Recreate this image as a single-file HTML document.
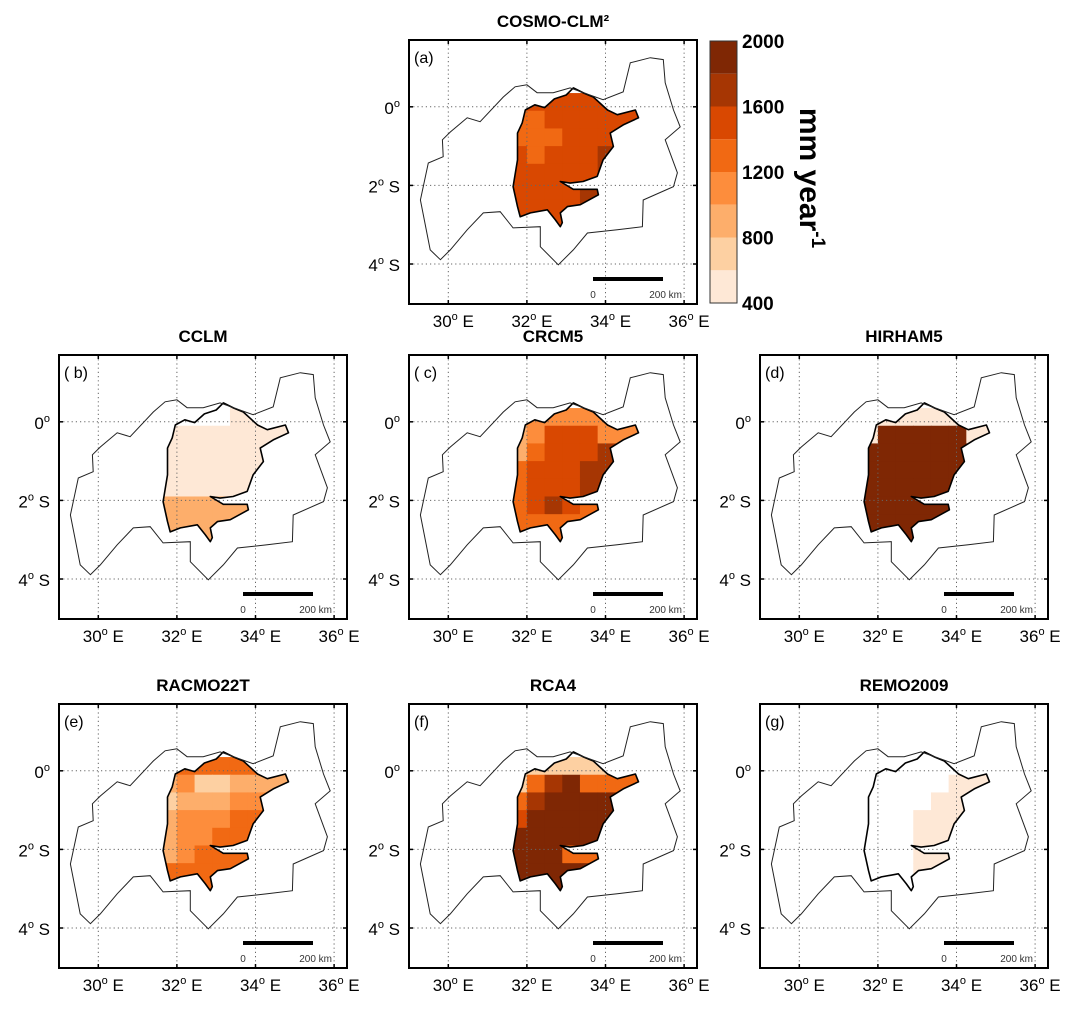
<!DOCTYPE html>
<html><head><meta charset="utf-8">
<style>
body{margin:0;background:#fff;}
svg{display:block;font-family:"Liberation Sans",sans-serif;}
</style></head>
<body>
<svg id="fig" width="1082" height="1015" viewBox="0 0 1082 1015"></svg>
<script>
// ---- data ----
const binEdges = [400,600,800,1000,1200,1400,1600,1800,2000];
const binColors = ["#fee8d6","#fdd0a2","#fdae6b","#fd8d3c","#f16913","#d94801","#a63603","#7f2704"];
const cbTicks = [400,800,1200,1600,2000];
const lonTicks = [30,32,34,36];
const latTicks = [0,-2,-4];
const basinLon = [29.8,29.54,29.29,29.49,29.87,29.85,30.05,30.48,30.81,31.4,31.7,32.0,32.26,32.67,33.1,33.94,34.45,34.63,35.14,35.47,35.52,35.73,35.9,35.52,35.83,35.73,34.96,34.94,34.3,33.54,33.18,32.8,32.34,32.34,31.65,31.32,30.89,30.48,30.05];
const basinLat = [-3.89,-3.64,-2.37,-1.43,-1.27,-0.84,-0.64,-0.28,-0.38,0.25,0.51,0.56,0.36,0.36,0.48,0.18,0.38,1.12,1.25,1.2,0.61,-0.08,-0.51,-0.84,-1.68,-2.03,-2.37,-3.05,-3.13,-3.21,-3.64,-4.02,-3.56,-3.05,-3.08,-2.67,-2.7,-3.13,-3.64];
const lakeLon = [31.96,32.2,32.45,32.7,33.0,33.18,33.45,33.69,34.05,34.3,34.76,34.84,34.45,34.12,34.2,33.94,33.79,33.43,33.1,32.85,33.18,33.79,33.82,33.36,33.03,32.85,32.9,32.85,32.72,32.52,32.09,31.83,31.76,31.65,31.76,31.76,31.88];
const lakeLat = [-0.08,0.05,-0.02,0.2,0.3,0.48,0.35,0.25,-0.08,-0.2,-0.08,-0.28,-0.46,-0.67,-1.01,-1.35,-1.77,-1.9,-1.94,-1.9,-2.1,-2.1,-2.24,-2.49,-2.54,-2.7,-2.95,-3.05,-2.87,-2.62,-2.7,-2.8,-2.54,-2.03,-1.35,-0.67,-0.41];
// model grid: 8x8 cells, lon from 31.55, lat from 0.35, step 0.45; 0 = below range (white)
const cosmoVals = [
[1500,1500,1500,1500,1500,1500,1500,1500],
[1300,1300,1500,1500,1500,1500,1500,1500],
[1300,1300,1300,1500,1500,1500,1500,1500],
[1500,1300,1500,1500,1500,1700,1500,1500],
[1500,1500,1500,1500,1500,1700,1500,1500],
[1500,1500,1500,1500,1700,1700,1500,1500],
[1500,1500,1500,1500,1700,1700,1500,1500],
[1500,1500,1500,1500,1500,1500,1500,1500]];
const cclmVals = [
[0,0,0,0,450,450,450,450],
[450,450,450,450,450,450,450,450],
[450,450,450,450,450,450,450,450],
[450,450,450,550,550,550,550,550],
[450,450,450,550,550,550,550,550],
[900,900,900,900,900,900,900,900],
[900,900,900,900,900,900,900,900],
[900,900,900,900,900,900,900,900]];
const crcmVals = [
[1100,1100,1100,1100,1100,1100,1100,1100],
[900,1100,1500,1500,1500,1100,1100,1100],
[900,1300,1500,1500,1500,1700,1700,1700],
[1300,1500,1500,1500,1700,1700,1700,1700],
[1300,1500,1500,1500,1700,1700,1700,1700],
[1300,1500,1700,1500,1300,1300,1300,1300],
[1300,1300,1300,1300,1300,1300,1300,1300],
[1300,1300,1300,1300,1300,1300,1300,1300]];
const hirhamVals = [
[500,500,500,500,500,500,500,500],
[500,1900,1900,1900,1900,1900,500,500],
[1900,1900,1900,1900,1900,1900,1900,1900],
[1900,1900,1900,1900,1900,1900,1900,1900],
[1900,1900,1900,1900,1900,1900,1900,1900],
[1900,1900,1900,1900,1900,1900,1900,1900],
[1900,1900,1900,1900,1900,1900,1900,1900],
[1900,1900,1900,1900,1900,1900,1900,1900]];
const racmoVals = [
[1300,1300,1300,1300,1300,1300,1300,1300],
[900,1100,700,700,900,900,900,900],
[700,900,900,900,1100,1100,1100,1100],
[900,1100,1100,1100,1300,1300,1300,1300],
[900,1100,1100,1300,1300,1300,1300,1300],
[900,1100,1300,1300,1300,1300,1300,1300],
[1300,1300,1300,1300,1300,1300,1300,1300],
[1300,1300,1300,1300,1300,1300,1300,1300]];
const rcaVals = [
[700,700,700,700,700,700,700,700],
[700,1300,1700,1900,1300,1300,1300,1300],
[1300,1700,1900,1900,1900,1900,1900,1900],
[1500,1900,1900,1900,1900,1900,1900,1900],
[1900,1900,1900,1900,1900,1900,1900,1900],
[1900,1900,1900,1300,1300,1300,1300,1300],
[1900,1900,1900,1900,1900,1900,1900,1900],
[1900,1900,1900,1900,1900,1900,1900,1900]];
const remoVals = [
[0,0,0,0,0,0,450,450],
[0,0,0,0,0,450,450,450],
[0,0,0,0,450,450,450,450],
[0,0,0,450,450,450,450,450],
[0,0,0,550,550,550,550,550],
[0,0,0,550,550,550,550,550],
[0,0,0,550,550,550,550,550],
[0,0,0,550,550,550,550,550]];
const panelTitles = ["COSMO-CLM²","CCLM","CRCM5","HIRHAM5","RACMO22T","RCA4","REMO2009"];
const panelLetters = ["(a)","( b)","( c)","(d)","(e)","(f)","(g)"];
const panelVals = [cosmoVals,cclmVals,crcmVals,hirhamVals,racmoVals,rcaVals,remoVals];

// ---- layout ----
const NS="http://www.w3.org/2000/svg";
const svg=document.getElementById('fig');
const origins=[[409,40],[59,355],[409,355],[760,355],[59,704],[409,704],[760,704]];
const PX=39.3, LON0=29.0, LAT0=1.7, W=288, H=264;
const gLon0=31.55, gLat0=0.35, gStep=0.45;
function mk(tag,attrs,parent){const e=document.createElementNS(NS,tag);for(const k in attrs)e.setAttribute(k,attrs[k]);(parent||svg).appendChild(e);return e;}
function colorFor(v){for(let i=0;i<binColors.length;i++){if(v<binEdges[i+1])return binColors[i];}return binColors[binColors.length-1];}

panelVals.forEach((vals,p)=>{
  const [ox,oy]=origins[p];
  const X=lon=>ox+(lon-LON0)*PX, Y=lat=>oy+(LAT0-lat)*PX;
  const g=mk('g',{});
  
  
  const t=mk('text',{x:ox+W/2,y:oy-13,'text-anchor':'middle','font-size':17,'font-weight':'bold'},g);
  t.textContent=panelTitles[p];
  
  
  const cid='lake'+p;
  const cp=mk('clipPath',{id:cid},g);
  const lakePts=lakeLon.map((l,i)=>X(l).toFixed(1)+','+Y(lakeLat[i]).toFixed(1)).join(' ');
  mk('polygon',{points:lakePts},cp);
  const cells=mk('g',{'clip-path':'url(#'+cid+')'},g);
  
  
  vals.forEach((row,r)=>row.forEach((v,c)=>{
    if(v<binEdges[0])return;
    const lonA=gLon0+c*gStep, latA=gLat0-r*gStep;
    const rc=mk('rect',{x:X(lonA),y:Y(latA),width:gStep*PX+0.6,height:gStep*PX+0.6,fill:colorFor(v)},cells);
    
    
  }));
  lonTicks.forEach(lon=>{
    const l=mk('line',{x1:X(lon),x2:X(lon),y1:oy,y2:oy+H,stroke:'#666','stroke-width':1,'stroke-dasharray':'1.2,3'},g);
    
    
    const tx=mk('text',{x:X(lon)+5,y:oy+H+23,'text-anchor':'middle','font-size':17},g);
    tx.innerHTML=lon+'<tspan dy="-7" font-size="11">o</tspan><tspan dy="7"> E</tspan>';
    
    
    mk('line',{x1:X(lon),x2:X(lon),y1:oy+H,y2:oy+H-4,stroke:'#000','stroke-width':1.5},g);
    mk('line',{x1:X(lon),x2:X(lon),y1:oy,y2:oy+4,stroke:'#000','stroke-width':1.5},g);
  });
  latTicks.forEach(lat=>{
    const l=mk('line',{x1:ox,x2:ox+W,y1:Y(lat),y2:Y(lat),stroke:'#666','stroke-width':1,'stroke-dasharray':'1.2,3'},g);
    
    
    const tx=mk('text',{x:ox-9,y:Y(lat)+7,'text-anchor':'end','font-size':17},g);
    tx.innerHTML=Math.abs(lat)+'<tspan dy="-7" font-size="11">o</tspan>'+(lat<0?'<tspan dy="7"> S</tspan>':'');
    
    
    mk('line',{x1:ox,x2:ox+4,y1:Y(lat),y2:Y(lat),stroke:'#000','stroke-width':1.5},g);
    mk('line',{x1:ox+W,x2:ox+W-4,y1:Y(lat),y2:Y(lat),stroke:'#000','stroke-width':1.5},g);
  });
  const lk=mk('polygon',{points:lakePts,fill:'none',stroke:'#000','stroke-width':1.6,'stroke-linejoin':'round'},g);
  
  
  const bp=basinLon.map((l,i)=>X(l).toFixed(1)+','+Y(basinLat[i]).toFixed(1)).join(' ');
  const bs=mk('polygon',{points:bp,fill:'none',stroke:'#222','stroke-width':1},g);
  
  
  const fr=mk('rect',{x:ox,y:oy,width:W,height:H,fill:'none',stroke:'#000','stroke-width':2},g);
  
  
  const lt=mk('text',{x:ox+5,y:oy+23,'font-size':16},g);
  lt.textContent=panelLetters[p];
  
  
  const sb=mk('rect',{x:ox+184,y:oy+237,width:70,height:4,fill:'#000'},g);
  
  
  const s0=mk('text',{x:ox+184,y:oy+258,'text-anchor':'middle','font-size':10,fill:'#333'},g);
  s0.textContent='0';
  
  
  const s1=mk('text',{x:ox+273,y:oy+258,'text-anchor':'end','font-size':10,fill:'#333'},g);
  s1.textContent='200 km';
  
  
});

// colorbar
const cbX=710, cbTop=41, cbBot=303, cbW=27;
const cb=mk('g',{});


const cbY=v=>cbBot-(v-binEdges[0])/(binEdges[binEdges.length-1]-binEdges[0])*(cbBot-cbTop);
binColors.forEach((c,i)=>{
  const r=mk('rect',{x:cbX,y:cbY(binEdges[i+1]),width:cbW,height:cbY(binEdges[i])-cbY(binEdges[i+1]),fill:c},cb);
  
  
});
mk('rect',{x:cbX,y:cbTop,width:cbW,height:cbBot-cbTop,fill:'none',stroke:'#333','stroke-width':1},cb);
cbTicks.forEach(v=>{
  const t=mk('text',{x:cbX+cbW+5,y:cbY(v)+7,'font-size':19,'font-weight':'bold'},cb);
  t.textContent=v;
  
  
});
const ut=mk('text',{x:0,y:0,'font-size':30,'font-weight':'bold',transform:'translate(800,178) rotate(90)','text-anchor':'middle'},cb);
ut.innerHTML='mm year<tspan dy="-12" font-size="19">-1</tspan>';


</script>
</body></html>
